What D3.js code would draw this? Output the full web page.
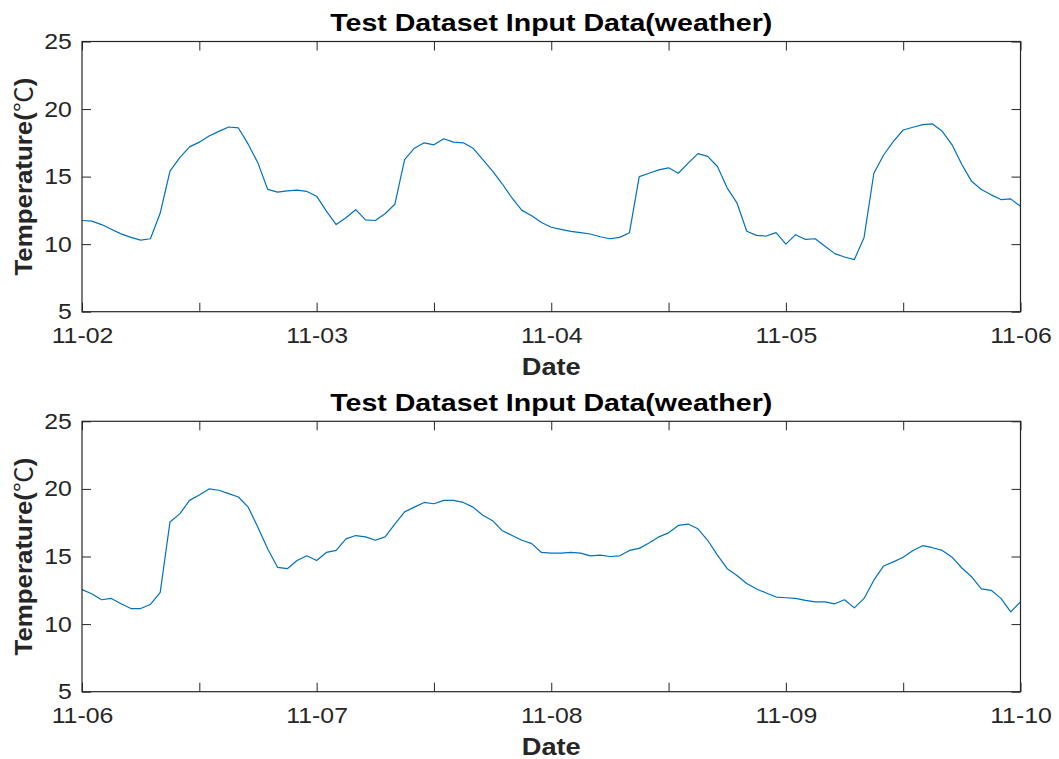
<!DOCTYPE html>
<html>
<head>
<meta charset="utf-8">
<script src="https://cdn.jsdelivr.net/npm/d3@7"></script>
<style>
  html, body { margin: 0; padding: 0; background: #fff; }
  svg { display: block; }
  text { font-family: "Liberation Sans", Arial, Helvetica, sans-serif; }
</style>
</head>
<body>
<svg id="chart" width="1059" height="759"></svg>
<script>
// ---------------- data ----------------
const chartTitle = "Test Dataset Input Data(weather)";
const xLabel = "Date";
const yLabelMain = "Temperature(";
const yLabelUnit = "℃";
const yTicks = [5, 10, 15, 20, 25];
const yDomain = [5, 25];

// panel 1: hourly readings from 11-02 00:00 to 11-06 00:00
const panel1Start = "2000-11-02T00:00:00";
const panel1End = "2000-11-06T00:00:00";
const panel1Temps = [
  11.75, 11.7, 11.45, 11.1, 10.76, 10.5, 10.3, 10.4, 12.3, 15.4,
  16.4, 17.2, 17.55, 18.0, 18.35, 18.67, 18.6, 17.4, 16.0, 14.05,
  13.85, 13.95, 14.0, 13.9, 13.55, 12.45, 11.45, 11.95, 12.55, 11.8,
  11.75, 12.25, 12.95, 16.25, 17.1, 17.5, 17.35, 17.8, 17.55, 17.5,
  17.1, 16.25, 15.4, 14.45, 13.4, 12.5, 12.1, 11.6, 11.25, 11.1,
  10.95, 10.85, 10.75, 10.55, 10.4, 10.5, 10.85, 15.0, 15.25, 15.5,
  15.65, 15.25, 16.0, 16.7, 16.5, 15.75, 14.15, 13.05, 10.95, 10.65,
  10.6, 10.85, 10.0, 10.7, 10.35, 10.4, 9.85, 9.3, 9.05, 8.85,
  10.5, 15.25, 16.6, 17.6, 18.45, 18.65, 18.85, 18.9, 18.35, 17.35,
  15.9, 14.65, 14.05, 13.65, 13.3, 13.35, 12.8
];

// panel 2: hourly readings from 11-06 00:00 to 11-10 00:00
const panel2Start = "2000-11-06T00:00:00";
const panel2End = "2000-11-10T00:00:00";
const panel2Temps = [
  12.55, 12.25, 11.8, 11.9, 11.5, 11.15, 11.15, 11.45, 12.35, 17.55,
  18.15, 19.15, 19.55, 20.0, 19.9, 19.65, 19.4, 18.65, 17.15, 15.55,
  14.2, 14.1, 14.7, 15.05, 14.7, 15.3, 15.45, 16.3, 16.55, 16.45,
  16.2, 16.45, 17.4, 18.3, 18.65, 19.0, 18.9, 19.15, 19.15, 19.0,
  18.65, 18.05, 17.65, 16.9, 16.55, 16.2, 15.95, 15.3, 15.25, 15.25,
  15.3, 15.25, 15.05, 15.1, 15.0, 15.05, 15.45, 15.6, 16.0, 16.45,
  16.75, 17.3, 17.4, 17.05, 16.2, 15.1, 14.1, 13.6, 13.0, 12.6,
  12.3, 12.0, 11.95, 11.9, 11.75, 11.65, 11.65, 11.5, 11.8, 11.2,
  11.9, 13.25, 14.3, 14.6, 14.95, 15.45, 15.8, 15.65, 15.45, 14.95,
  14.15, 13.5, 12.6, 12.5, 11.9, 10.9, 11.65
];

// ---------------- drawing ----------------
const svg = d3.select("#chart");
const axisColor = "#262626";
const lineColor = "#0072BD";
const sx = 1.13; // horizontal stretch of text in the reference

const panels = [
  { start: panel1Start, end: panel1End, temps: panel1Temps, top: 41.5, bottom: 311.7 },
  { start: panel2Start, end: panel2End, temps: panel2Temps, top: 421.3, bottom: 691.7 }
];
const left = 82, right = 1020.5;
const fmt = d3.timeFormat("%m-%d");

panels.forEach(p => {
  const t0 = new Date(p.start), t1 = new Date(p.end);
  const x = d3.scaleTime().domain([t0, t1]).range([left, right]);
  const y = d3.scaleLinear().domain(yDomain).range([p.bottom, p.top]);
  const pts = p.temps.map((v, i) => ({ t: d3.timeHour.offset(t0, i), v }));
  const xTicks = d3.timeHour.every(12).range(t0, d3.timeHour.offset(t1, 1));
  const g = svg.append("g");

  // line
  g.append("path")
    .datum(pts)
    .attr("fill", "none")
    .attr("stroke", lineColor)
    .attr("stroke-width", 1.2)
    .attr("stroke-linejoin", "round")
    .attr("d", d3.line().x(d => x(d.t)).y(d => y(d.v)));

  // axes
  const styleAxis = sel => {
    sel.select(".domain").remove();
    sel.selectAll(".tick line").attr("stroke", axisColor).attr("stroke-width", 1);
    sel.selectAll("text").attr("fill", axisColor).style("font-size", "22px");
  };
  const bottomAx = g.append("g")
    .attr("transform", `translate(0,${p.bottom})`)
    .call(d3.axisBottom(x).tickValues(xTicks).tickSizeInner(-9).tickSizeOuter(0)
      .tickFormat(d => d.getHours() === 0 ? fmt(d) : ""))
    .call(styleAxis);
  bottomAx.selectAll("text").attr("dy", null).attr("y", 31.6)
    .attr("transform", `scale(${sx},1)`);

  g.append("g")
    .attr("transform", `translate(0,${p.top})`)
    .call(d3.axisTop(x).tickValues(xTicks).tickSizeInner(-9).tickSizeOuter(0).tickFormat(""))
    .call(styleAxis);

  const leftAx = g.append("g")
    .attr("transform", `translate(${left},0)`)
    .call(d3.axisLeft(y).tickValues(yTicks).tickSizeInner(-9).tickSizeOuter(0).tickPadding(9))
    .call(styleAxis);
  leftAx.selectAll("text").attr("transform", `scale(${sx},1)`);

  g.append("g")
    .attr("transform", `translate(${right},0)`)
    .call(d3.axisRight(y).tickValues(yTicks).tickSizeInner(-9).tickSizeOuter(0).tickFormat(""))
    .call(styleAxis);

  // box
  g.append("rect")
    .attr("x", left).attr("y", p.top)
    .attr("width", right - left).attr("height", p.bottom - p.top)
    .attr("fill", "none").attr("stroke", axisColor).attr("stroke-width", 1.2);

  // title
  g.append("text")
    .attr("x", (left + right) / 2).attr("y", p.top - 10.8)
    .attr("text-anchor", "middle")
    .attr("font-weight", "bold").style("font-size", "24px")
    .attr("fill", "#000")
    .attr("textLength", 442).attr("lengthAdjust", "spacingAndGlyphs")
    .text(chartTitle);

  // x label
  g.append("text")
    .attr("x", (left + right) / 2).attr("y", p.bottom + 63.3)
    .attr("text-anchor", "middle")
    .attr("font-weight", "bold").style("font-size", "24px")
    .attr("fill", axisColor)
    .attr("textLength", 59).attr("lengthAdjust", "spacingAndGlyphs")
    .text(xLabel);

  // y label
  const yl = g.append("text")
    .attr("transform", `translate(32,${(p.top + p.bottom) / 2}) rotate(-90)`)
    .attr("text-anchor", "middle")
    .attr("font-weight", "bold").style("font-size", "24px")
    .attr("fill", axisColor)
    .attr("textLength", 198).attr("lengthAdjust", "spacingAndGlyphs");
  yl.append("tspan").text(yLabelMain);
  yl.append("tspan").attr("font-weight", "normal")
    .style("font-family", "'Noto Sans CJK SC', 'DejaVu Sans', sans-serif").text(yLabelUnit);
  yl.append("tspan").text(")");
});
</script>
</body>
</html>
